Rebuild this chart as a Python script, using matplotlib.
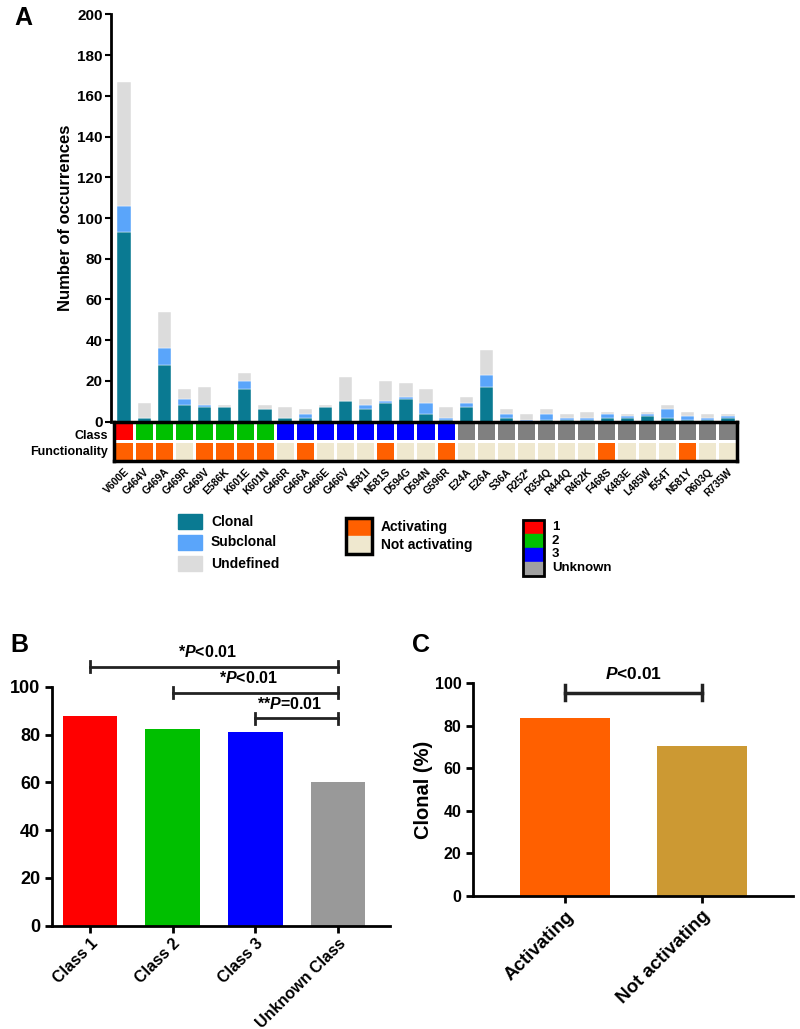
import matplotlib
matplotlib.use('Agg')
import matplotlib.pyplot as plt
from matplotlib.colors import ListedColormap
from matplotlib.patches import Rectangle
import numpy as np

plt.rcParams['font.family'] = ['Liberation Sans', 'DejaVu Sans']
plt.rcParams['font.weight'] = 'bold'
plt.rcParams['axes.labelweight'] = 'bold'
plt.rcParams['mathtext.fontset'] = 'custom'
plt.rcParams['mathtext.it'] = 'Liberation Sans:bold:italic'
plt.rcParams['mathtext.rm'] = 'Liberation Sans:bold'

# ---- panel A data ----
mutations = ['V600E', 'G464V', 'G469A', 'G469R', 'G469V', 'E586K', 'K601E', 'K601N',
             'G466R', 'G466A', 'G466E', 'G466V', 'N581I', 'N581S', 'D594G', 'D594N',
             'G596R', 'E24A', 'E26A', 'S36A', 'R252*', 'R354Q', 'R444Q', 'R462K',
             'F468S', 'K483E', 'L485W', 'I554T', 'N581Y', 'R603Q', 'R735W']
clonal = [93, 2, 28, 8, 7, 7, 16, 6, 2, 2, 7, 10, 6, 9, 11, 4, 1, 7, 17, 2, 0, 1, 1, 1, 2, 2, 3, 2, 1, 1, 2]
subclonal = [13, 0, 8, 3, 1, 0, 4, 0, 0, 2, 0, 0, 2, 1, 1, 5, 1, 2, 6, 2, 1, 3, 1, 1, 2, 1, 1, 4, 2, 1, 1]
undefined = [61, 7, 18, 5, 9, 1, 4, 2, 5, 2, 1, 12, 3, 10, 7, 7, 5, 3, 12, 2, 3, 2, 2, 3, 1, 1, 1, 2, 2, 2, 1]
mut_class = ['1'] + ['2'] * 7 + ['3'] * 9 + ['U'] * 14
functionality = ['A', 'A', 'A', 'N', 'A', 'A', 'A', 'A',
                 'N', 'A', 'N', 'N', 'N', 'A', 'N', 'N', 'A',
                 'N', 'N', 'N', 'N', 'N', 'N', 'N',
                 'A', 'N', 'N', 'N', 'A', 'N', 'N']

# ---- panel B data ----
classes_b = ['Class 1', 'Class 2', 'Class 3', 'Unknown Class']
clonal_pct_b = [87.6, 82.3, 81.2, 60.3]
# (start bar, end bar, height, label)
sig_b = [(0, 3, 108.4, '*$\\mathit{P}$<0.01'),
         (1, 3, 97.5, '*$\\mathit{P}$<0.01'),
         (2, 3, 86.8, '**$\\mathit{P}$=0.01')]

# ---- panel C data ----
groups_c = ['Activating', 'Not activating']
clonal_pct_c = [83.7, 70.7]

c_clonal, c_sub, c_undef = '#0A7A92', '#5AA5FA', '#DCDCDC'
class_colors = {'1': '#FF0000', '2': '#00C000', '3': '#0000FF', 'U': '#808080'}
func_colors = {'A': '#FF6000', 'N': '#EFE8CF'}

W, H = 800, 1029
fig = plt.figure(figsize=(W / 100, H / 100), dpi=100)


def px(x0, y0, x1, y1):
    return [x0 / W, 1 - y1 / H, (x1 - x0) / W, (y1 - y0) / H]


# ================= A =================
axA = fig.add_axes(px(111, 14.3, 738, 421.7))
x = np.arange(len(mutations))
cl = np.array(clonal)
sb = np.array(subclonal)
ud = np.array(undefined)
axA.bar(x, cl, 0.66, color=c_clonal, edgecolor='white', linewidth=0.3)
axA.bar(x, sb, 0.66, bottom=cl, color=c_sub, edgecolor='white', linewidth=0.3)
axA.bar(x, ud, 0.66, bottom=cl + sb, color=c_undef, edgecolor='white', linewidth=0.3)
axA.set_xlim(-0.65, 30.5)
axA.set_ylim(0, 200)
axA.set_yticks(range(0, 201, 20))
axA.set_xticks([])
for s in ['top', 'right', 'bottom']:
    axA.spines[s].set_visible(False)
axA.spines['left'].set_linewidth(2)
axA.tick_params(axis='y', labelsize=11, width=1.5, length=4, direction='out', pad=2)
axA.set_ylabel('Number of occurrences', fontsize=12)
axA.yaxis.set_label_coords(-0.06, 0.5)

# class / functionality grid
axG = fig.add_axes(px(114, 421.7, 737, 461))
cmap_list = [class_colors[k] for k in ['1', '2', '3', 'U']] + [func_colors['A'], func_colors['N']]
code = {'1': 0, '2': 1, '3': 2, 'U': 3, 'A': 4, 'N': 5}
mat = np.array([[code[c] for c in mut_class], [code[f] for f in functionality]])
axG.pcolormesh(np.arange(len(mutations) + 1) - 0.5, [-0.5, 0.5, 1.5], mat,
               cmap=ListedColormap(cmap_list), vmin=-0.5, vmax=5.5,
               edgecolors='white', linewidth=1)
axG.set_xlim(-0.5, len(mutations) - 0.5)
axG.set_ylim(1.5, -0.5)
axG.set_yticks([])
axG.set_xticks(x)
axG.set_xticklabels(mutations, rotation=45, ha='right', va='top',
                    rotation_mode='anchor', fontsize=7.5)
axG.tick_params(axis='x', length=0, pad=4)
for s in axG.spines.values():
    s.set_linewidth(2.5)
fig.text(108 / W, 1 - 436 / H, 'Class', ha='right', va='center', fontsize=9)
fig.text(108 / W, 1 - 452.5 / H, 'Functionality', ha='right', va='center', fontsize=9)

# legends drawn on a full-figure overlay in pixel units
axO = fig.add_axes([0, 0, 1, 1])
axO.set_xlim(0, W)
axO.set_ylim(H, 0)
axO.axis('off')
for i, (lab, col) in enumerate([('Clonal', c_clonal), ('Subclonal', c_sub), ('Undefined', c_undef)]):
    y0 = 514 + i * 21
    axO.add_patch(Rectangle((178, y0), 24, 15, color=col))
    axO.text(211, y0 + 7.5, lab, fontsize=10, va='center')

for i, k in enumerate(['A', 'N']):
    axO.add_patch(Rectangle((346, 518 + i * 18), 26, 18, color=func_colors[k]))
axO.add_patch(Rectangle((346, 518), 26, 36, fill=False, edgecolor='black', linewidth=2.5))
axO.text(381, 527.5, 'Activating', fontsize=10, va='center')
axO.text(381, 545, 'Not activating', fontsize=10, va='center')

for i, k in enumerate(['1', '2', '3', 'U']):
    axO.add_patch(Rectangle((523, 520 + i * 14), 21, 14, color=class_colors[k] if k != 'U' else '#A0A0A0'))
axO.add_patch(Rectangle((523, 520), 21, 56, fill=False, edgecolor='black', linewidth=2))
for i, lab in enumerate(['1', '2', '3', 'Unknown']):
    axO.text(552, 527 + i * 13.7, lab, fontsize=9.5, va='center')

axO.text(14, 18, 'A', fontsize=18, va='center')
axO.text(10, 645, 'B', fontsize=18, va='center')
axO.text(412, 645, 'C', fontsize=18, va='center')

# ================= B =================
axB = fig.add_axes(px(52, 686.7, 390, 925.7))
xb = np.arange(len(classes_b))
axB.bar(xb, clonal_pct_b, 0.66, color=['#FF0000', '#00BF00', '#0000FF', '#999999'])
axB.set_xlim(-0.46, 3.63)
axB.set_ylim(0, 100)
axB.set_yticks(range(0, 101, 20))
axB.set_xticks(xb)
axB.set_xticklabels(classes_b, rotation=45, ha='right', va='top',
                    rotation_mode='anchor', fontsize=11.5)
for s in ['top', 'right']:
    axB.spines[s].set_visible(False)
for s in ['left', 'bottom']:
    axB.spines[s].set_linewidth(2)
axB.tick_params(labelsize=13, width=2, length=5)
axB.tick_params(axis='x', labelsize=11.5, pad=2)
for a, b, h, lab in sig_b:
    axB.plot([a, b], [h, h], color='#222222', lw=2, clip_on=False)
    for e in (a, b):
        axB.plot([e, e], [h - 2.2, h + 2.2], color='#222222', lw=2, clip_on=False)
    axB.text((a + b) / 2 - 0.08, h + 6, lab, ha='center', va='center', fontsize=11.5, clip_on=False)

# ================= C =================
axC = fig.add_axes(px(473.3, 683.3, 793, 896))
xc = np.arange(len(groups_c))
axC.bar(xc, clonal_pct_c, 0.66, color=['#FF6000', '#CC9933'])
axC.set_xlim(-0.67, 1.668)
axC.set_ylim(0, 100)
axC.set_yticks(range(0, 101, 20))
axC.set_xticks(xc)
axC.set_xticklabels(groups_c, rotation=45, ha='right', va='top',
                    rotation_mode='anchor', fontsize=13.5)
for s in ['top', 'right']:
    axC.spines[s].set_visible(False)
for s in ['left', 'bottom']:
    axC.spines[s].set_linewidth(2)
axC.tick_params(labelsize=11.5, width=2, length=5)
axC.tick_params(axis='x', labelsize=13.5)
axC.set_ylabel('Clonal (%)', fontsize=14.5)
axC.yaxis.set_label_coords(-0.126, 0.5)
axC.plot([0, 1], [95.6, 95.6], color='#222222', lw=2.5, clip_on=False)
for e in (0, 1):
    axC.plot([e, e], [92, 99.4], color='#222222', lw=2.5, clip_on=False)
axC.text(0.5, 104.4, '$\\mathit{P}$<0.01', ha='center', va='center', fontsize=12.5, clip_on=False)

fig.savefig('out.png', dpi=100)
